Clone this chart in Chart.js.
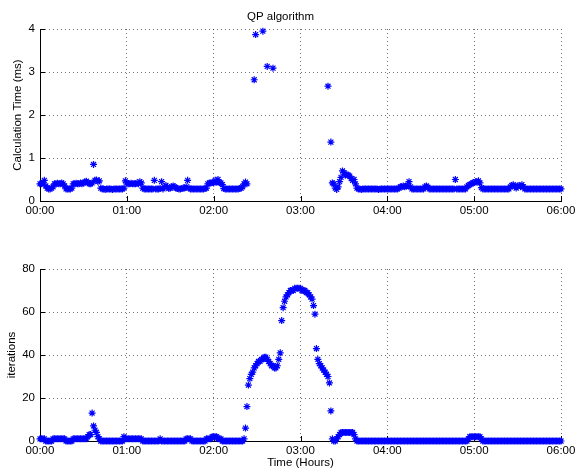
<!DOCTYPE html>
<html>
<head>
<meta charset="utf-8">
<script src="https://cdn.jsdelivr.net/npm/chart.js@4.4.1/dist/chart.umd.min.js"></script>
<style>
  body { margin: 0; background: #fff; }
  #wrap { position: relative; width: 575px; height: 470px; }
  .panel { position: absolute; left: 0; width: 575px; height: 235px; }
</style>
</head>
<body>
<div id="wrap">
  <div class="panel" style="top:0"><canvas id="timeChart"></canvas></div>
  <div class="panel" style="top:235px"><canvas id="iterChart"></canvas></div>
</div>
<script>
// one sample per minute, 00:00 .. 06:00
const sampleMinutes = 1;
const xTickValues = [0, 60, 120, 180, 240, 300, 360];
const xTickLabels = ["00:00", "01:00", "02:00", "03:00", "04:00", "05:00", "06:00"];
const timeTicks = [0, 1, 2, 3, 4];
const iterTicks = [0, 20, 40, 60, 80];

// calculation time (ms); null = not visible in the plot
const calcTime = [
  0.40,0.40,0.42,0.48,0.35,0.30,0.28,0.28,0.30,0.33,0.40,0.40,0.41,0.40,0.40,0.42,0.40,0.35,0.28,0.28,0.28,0.28,0.30,0.40,0.40,0.41,0.40,0.40,0.42,0.40,
  0.42,0.44,0.46,0.43,0.40,0.40,0.42,0.85,0.48,0.49,0.45,0.47,0.30,0.28,0.28,0.27,0.28,0.28,0.28,0.28,0.27,0.28,0.28,0.28,0.28,0.28,0.28,0.28,0.30,0.47,
  0.42,0.40,0.40,0.41,0.40,0.40,0.40,0.42,0.40,0.45,0.42,0.30,0.28,0.28,0.28,0.28,0.28,0.28,0.28,0.48,0.28,0.28,0.28,0.29,0.45,0.28,0.33,0.36,0.33,0.29,
  0.30,0.33,0.35,0.33,0.30,0.29,0.28,0.28,0.29,0.30,0.30,0.33,0.48,0.30,0.28,0.28,0.28,0.28,0.28,0.28,0.28,0.28,0.28,0.28,0.29,0.30,0.40,0.42,0.42,0.43,
  0.42,0.48,0.44,0.50,0.43,0.42,0.38,0.29,0.28,0.28,0.28,0.28,0.28,0.28,0.28,0.28,0.28,0.28,0.29,0.30,0.33,0.40,0.44,0.40,null,null,null,null,2.82,3.87,
  null,null,null,null,3.95,null,null,3.13,null,null,null,3.09,null,null,null,null,null,null,null,null,null,null,null,null,null,null,null,null,null,null,
  null,null,null,null,null,null,null,null,null,null,null,null,null,null,null,null,null,null,null,2.67,null,1.37,0.42,0.40,0.30,0.27,0.33,0.45,0.55,0.70,
  0.66,0.60,0.62,0.60,0.58,0.52,0.48,0.50,0.40,0.30,0.28,0.28,0.27,0.28,0.28,0.28,0.28,0.28,0.28,0.28,0.28,0.28,0.28,0.28,0.27,0.28,0.28,0.28,0.28,0.28,
  0.28,0.28,0.28,0.28,0.28,0.28,0.28,0.28,0.30,0.33,0.33,0.35,0.33,0.35,0.36,0.45,0.33,0.28,0.28,0.28,0.28,0.28,0.28,0.28,0.28,0.28,0.33,0.35,0.32,0.28,
  0.28,0.28,0.28,0.28,0.28,0.28,0.28,0.28,0.28,0.28,0.28,0.28,0.28,0.28,0.28,0.28,0.28,0.50,0.28,0.28,0.28,0.28,0.28,0.28,0.28,0.33,0.36,0.38,0.40,0.42,
  0.43,0.45,0.44,0.47,0.42,0.31,0.28,0.28,0.28,0.28,0.28,0.28,0.28,0.28,0.28,0.28,0.28,0.28,0.28,0.28,0.28,0.28,0.28,0.28,0.28,0.33,0.36,0.38,0.34,0.30,
  0.35,0.36,0.33,0.38,0.33,0.28,0.28,0.28,0.28,0.28,0.28,0.28,0.28,0.28,0.28,0.28,0.28,0.28,0.28,0.28,0.28,0.28,0.28,0.28,0.28,0.28,0.28,0.28,0.28,0.28,
  0.28
];

const iterations = [
  1,1,1,1,0,0,0,0,0,1,1,1,1,1,1,1,1,1,0,0,0,0,0,1,1,1,1,1,1,1,
  1,1,1,2,3,3,13,7,5,4,2,1,0,0,0,0,0,0,0,0,0,0,0,0,0,0,0,0,2,1,
  1,1,1,1,1,1,1,1,1,1,1,0,0,0,0,0,0,0,0,0,0,0,0,1,0,0,0,0,0,0,
  0,0,0,0,0,0,0,0,0,0,0,1,1,1,1,0,0,0,0,0,0,0,0,0,0,1,1,1,1,2,
  2,2,2,1,1,1,0,0,0,0,0,0,0,0,0,0,0,0,0,0,0,1,6,16,26,29,31,32,34,35,
  36,37,37,38,38,39,39,38,37,36,35,35,34,34,35,38,41,56,62,65,67,68,69,70,70,70,71,71,71,71,
  71,70,70,70,69,69,68,67,66,63,59,43,38,36,35,34,33,32,31,30,27,14,1,0,0,1,2,3,4,4,
  4,4,4,4,4,4,4,3,1,0,0,0,0,0,0,0,0,0,0,0,0,0,0,0,0,0,0,0,0,0,
  0,0,0,0,0,0,0,0,0,0,0,0,0,0,0,0,0,0,0,0,0,0,0,0,0,0,0,0,0,0,
  0,0,0,0,0,0,0,0,0,0,0,0,0,0,0,0,0,0,0,0,0,0,0,0,0,0,1,2,2,2,
  2,2,2,2,2,1,0,0,0,0,0,0,0,0,0,0,0,0,0,0,0,0,0,0,0,0,0,0,0,0,
  0,0,0,0,0,0,0,0,0,0,0,0,0,0,0,0,0,0,0,0,0,0,0,0,0,0,0,0,0,0,
  0
];

const fontFamily = "'Liberation Sans', Arial, Helvetica, sans-serif";
const gridColor = "rgba(0,0,0,0.55)";

// matlab-style ticks pointing into the axes
const inwardTicks = {
  id: "inwardTicks",
  beforeDatasetsDraw(chart) {
    const { ctx, chartArea: a, scales: { x, y } } = chart;
    ctx.save();
    ctx.strokeStyle = "#000";
    ctx.lineWidth = 1;
    ctx.beginPath();
    x.ticks.forEach(t => {
      const px = Math.round(x.getPixelForValue(t.value)) + 0.5;
      ctx.moveTo(px, a.bottom);
      ctx.lineTo(px, a.bottom - 5);
    });
    y.ticks.forEach(t => {
      const py = Math.round(y.getPixelForValue(t.value)) + 0.5;
      ctx.moveTo(a.left, py);
      ctx.lineTo(a.left + 5, py);
    });
    ctx.stroke();
    ctx.restore();
  }
};

function makePanel(canvasId, values, cfg) {
  const points = values.map((v, i) => ({ x: i * sampleMinutes, y: v }));
  return new Chart(document.getElementById(canvasId), {
    type: "scatter",
    data: {
      datasets: [{
        data: points,
        pointStyle: "star",
        pointRadius: 3.5,
        borderColor: "#0000ff",
        backgroundColor: "#0000ff",
        borderWidth: 1.2,
        clip: false
      }]
    },
    options: {
      responsive: true,
      maintainAspectRatio: false,
      animation: false,
      events: [],
      layout: { padding: { top: cfg.padTop, right: 14, bottom: 0, left: 0 } },
      plugins: {
        legend: { display: false },
        tooltip: { enabled: false },
        title: {
          display: !!cfg.title,
          text: cfg.title || "",
          color: "#000",
          font: { family: fontFamily, size: 11.5, weight: "normal" },
          padding: { top: 9.8, bottom: 5.4 }
        }
      },
      scales: {
        x: {
          type: "linear",
          min: 0,
          max: 360,
          afterBuildTicks: axis => { axis.ticks = xTickValues.map(v => ({ value: v })); },
          afterFit: axis => {
            axis.height = cfg.xAxisHeight;
            axis.paddingLeft = 0;
            axis.paddingRight = 0;
          },
          ticks: {
            callback: (v, i) => xTickLabels[i],
            color: "#000",
            font: { family: fontFamily, size: 11.5 },
            padding: 3,
            maxRotation: 0,
            autoSkip: false
          },
          grid: { color: gridColor, drawTicks: false },
          border: { display: true, color: "#000", width: 1, dash: [1, 3] },
          title: {
            display: !!cfg.xTitle,
            text: cfg.xTitle || "",
            color: "#000",
            font: { family: fontFamily, size: 11.5 },
            padding: { top: 0, bottom: 0 }
          }
        },
        y: {
          min: cfg.yTicks[0],
          max: cfg.yTicks[cfg.yTicks.length - 1],
          afterBuildTicks: axis => { axis.ticks = cfg.yTicks.map(v => ({ value: v })); },
          afterFit: axis => {
            axis.width = 40;
            axis.paddingTop = 0;
            axis.paddingBottom = 0;
          },
          ticks: {
            color: "#000",
            font: { family: fontFamily, size: 11.5 },
            padding: 5
          },
          grid: { color: gridColor, drawTicks: false },
          border: { display: true, color: "#000", width: 1, dash: [1, 3] },
          title: {
            display: true,
            text: cfg.yTitle,
            color: "#000",
            font: { family: fontFamily, size: 11.5 },
            padding: { top: cfg.yTitlePad, bottom: 0 }
          }
        }
      }
    },
    plugins: [inwardTicks]
  });
}

makePanel("timeChart", calcTime, {
  title: "QP algorithm",
  yTitle: "Calculation Time (ms)",
  yTicks: timeTicks,
  yTitlePad: 10.5,
  padTop: 0,
  xAxisHeight: 34
});

makePanel("iterChart", iterations, {
  yTitle: "iterations",
  xTitle: "Time (Hours)",
  yTicks: iterTicks,
  yTitlePad: 4.8,
  padTop: 34,
  xAxisHeight: 29
});
</script>
</body>
</html>
